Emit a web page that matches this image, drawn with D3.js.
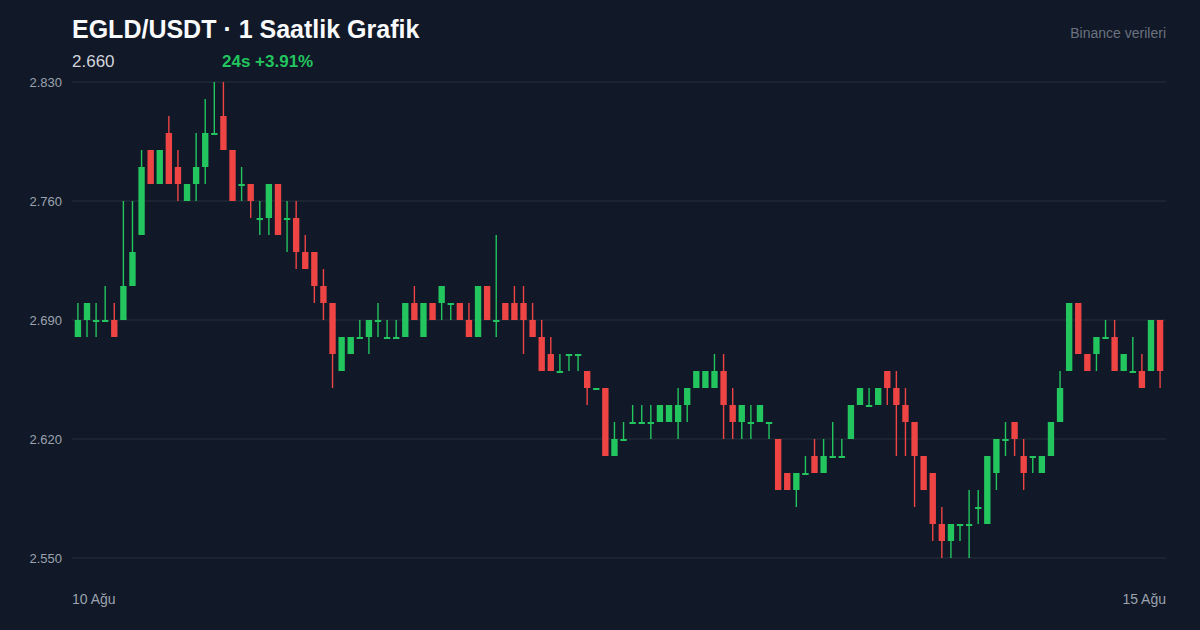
<!DOCTYPE html>
<html>
<head>
<meta charset="utf-8">
<script src="https://cdn.jsdelivr.net/npm/d3@7"></script>
<style>
  body { margin: 0; background: #111827; }
  svg { display: block; font-family: "Liberation Sans", Arial, sans-serif; }
</style>
</head>
<body>
<div id="chart"></div>
<script>
// OHLC, one entry per hour
var opens = [2.68,2.69,2.69,2.69,2.69,2.69,2.71,2.74,2.79,2.77,2.80,2.78,2.76,2.77,2.78,2.80,2.81,2.79,2.77,2.77,
  2.75,2.75,2.77,2.75,2.75,2.73,2.73,2.71,2.70,2.66,2.67,2.68,2.68,2.69,2.68,2.68,2.68,2.70,2.68,2.70,
  2.70,2.70,2.70,2.69,2.68,2.71,2.69,2.70,2.70,2.70,2.69,2.68,2.67,2.66,2.67,2.67,2.66,2.65,2.65,2.61,
  2.62,2.63,2.63,2.63,2.63,2.63,2.63,2.64,2.65,2.65,2.65,2.66,2.64,2.63,2.63,2.63,2.63,2.62,2.60,2.59,
  2.60,2.61,2.60,2.61,2.61,2.62,2.64,2.64,2.64,2.66,2.65,2.64,2.63,2.61,2.60,2.57,2.56,2.57,2.57,2.58,
  2.57,2.60,2.62,2.63,2.61,2.61,2.60,2.61,2.63,2.66,2.70,2.67,2.67,2.68,2.68,2.66,2.66,2.66,2.66,2.69];
var highs = [2.70,2.70,2.70,2.71,2.70,2.76,2.76,2.79,2.79,2.79,2.81,2.79,2.77,2.80,2.82,2.83,2.83,2.79,2.78,2.77,
  2.76,2.77,2.77,2.76,2.76,2.74,2.73,2.72,2.70,2.68,2.68,2.69,2.69,2.70,2.69,2.69,2.70,2.71,2.70,2.70,
  2.71,2.70,2.70,2.70,2.71,2.71,2.74,2.70,2.71,2.71,2.70,2.69,2.68,2.67,2.67,2.67,2.66,2.65,2.65,2.63,
  2.63,2.64,2.64,2.64,2.64,2.64,2.65,2.65,2.66,2.66,2.67,2.67,2.65,2.64,2.64,2.64,2.63,2.62,2.60,2.60,
  2.61,2.62,2.62,2.63,2.62,2.64,2.65,2.65,2.65,2.66,2.66,2.65,2.63,2.61,2.60,2.58,2.57,2.57,2.59,2.59,
  2.61,2.62,2.63,2.63,2.62,2.61,2.61,2.63,2.66,2.70,2.70,2.67,2.68,2.69,2.69,2.67,2.68,2.67,2.69,2.69];
var lows = [2.68,2.68,2.68,2.69,2.68,2.69,2.71,2.74,2.77,2.77,2.77,2.76,2.76,2.76,2.77,2.80,2.79,2.76,2.76,2.75,
  2.74,2.74,2.74,2.73,2.72,2.72,2.70,2.69,2.65,2.66,2.67,2.68,2.67,2.68,2.68,2.68,2.68,2.69,2.68,2.69,
  2.69,2.69,2.69,2.68,2.68,2.69,2.68,2.69,2.69,2.67,2.68,2.66,2.66,2.66,2.66,2.66,2.64,2.65,2.61,2.61,
  2.62,2.63,2.63,2.62,2.63,2.63,2.62,2.63,2.65,2.65,2.65,2.62,2.62,2.62,2.62,2.63,2.62,2.59,2.59,2.58,
  2.60,2.60,2.60,2.61,2.61,2.62,2.64,2.64,2.64,2.64,2.61,2.61,2.58,2.59,2.56,2.55,2.55,2.56,2.55,2.57,
  2.57,2.59,2.61,2.61,2.59,2.60,2.60,2.61,2.63,2.66,2.67,2.66,2.66,2.68,2.66,2.66,2.66,2.65,2.66,2.65];
var closes = [2.69,2.70,2.69,2.69,2.68,2.71,2.73,2.78,2.77,2.79,2.77,2.77,2.77,2.78,2.80,2.80,2.79,2.76,2.77,2.76,
  2.75,2.77,2.74,2.75,2.73,2.72,2.71,2.70,2.67,2.68,2.68,2.68,2.69,2.69,2.68,2.68,2.70,2.69,2.70,2.69,
  2.71,2.70,2.69,2.68,2.71,2.69,2.69,2.69,2.69,2.69,2.68,2.66,2.66,2.66,2.67,2.67,2.65,2.65,2.61,2.62,
  2.62,2.63,2.63,2.63,2.64,2.64,2.64,2.65,2.66,2.66,2.66,2.64,2.63,2.64,2.63,2.64,2.63,2.59,2.59,2.60,
  2.60,2.60,2.61,2.61,2.61,2.64,2.65,2.64,2.65,2.65,2.64,2.63,2.61,2.59,2.57,2.56,2.57,2.57,2.57,2.58,
  2.61,2.62,2.62,2.62,2.60,2.61,2.61,2.63,2.65,2.70,2.67,2.66,2.68,2.68,2.66,2.67,2.66,2.65,2.69,2.66];
var yTicks = [2.55, 2.62, 2.69, 2.76, 2.83];
var xLabels = ["10 Ağu", "15 Ağu"];
var title = "EGLD/USDT · 1 Saatlik Grafik";
var lastPrice = "2.660";
var change = "24s +3.91%";
var source = "Binance verileri";

var W = 1200, H = 630;
var plotLeft = 72, plotRight = 1166, plotTop = 82, plotBottom = 558;
var up = "#22c55e", down = "#ef4444";

var data = opens.map(function (o, i) {
    return { i: i, o: o, h: highs[i], l: lows[i], c: closes[i] };
});

var svg = d3.select("#chart").append("svg").attr("width", W).attr("height", H);
svg.append("rect").attr("width", W).attr("height", H).attr("fill", "#111827");

var x = d3.scaleBand().domain(data.map(d => d.i)).range([plotLeft, plotRight]).padding(0.3);
var y = d3.scaleLinear().domain([2.55, 2.83]).range([plotBottom, plotTop]);

// grid + y labels
svg.selectAll(".grid").data(yTicks).enter().append("line")
    .attr("x1", plotLeft).attr("x2", plotRight)
    .attr("y1", d => y(d)).attr("y2", d => y(d))
    .attr("stroke", "#1f2a37").attr("stroke-width", 1.5);
svg.selectAll(".ylab").data(yTicks).enter().append("text")
    .attr("x", 62).attr("y", d => y(d) + 5)
    .attr("text-anchor", "end").attr("fill", "#9ca3af").attr("font-size", 13)
    .text(d => d.toFixed(3));

// candles
var g = svg.append("g");
var cx = d => x(d.i) + x.bandwidth() / 2;
var col = d => d.c >= d.o ? up : down;
g.selectAll(".wick").data(data).enter().append("line")
    .attr("x1", cx).attr("x2", cx)
    .attr("y1", d => y(d.h)).attr("y2", d => y(d.l))
    .attr("stroke", col).attr("stroke-width", 1.4);
g.selectAll(".body").data(data).enter().append("rect")
    .attr("x", d => x(d.i)).attr("width", x.bandwidth())
    .attr("y", d => y(Math.max(d.o, d.c)))
    .attr("height", d => Math.max(2, Math.abs(y(d.o) - y(d.c))))
    .attr("fill", col);

// header
svg.append("text").attr("x", 72).attr("y", 38).attr("fill", "#f9fafb")
    .attr("font-size", 25).attr("font-weight", "bold").text(title);
svg.append("text").attr("x", 72).attr("y", 67).attr("fill", "#d1d5db")
    .attr("font-size", 17).text(lastPrice);
svg.append("text").attr("x", 222).attr("y", 67).attr("fill", up)
    .attr("font-size", 17).attr("font-weight", "bold").text(change);
svg.append("text").attr("x", 1166).attr("y", 38).attr("text-anchor", "end")
    .attr("fill", "#6b7280").attr("font-size", 14).text(source);

// x labels
svg.append("text").attr("x", 72).attr("y", 604).attr("fill", "#9ca3af")
    .attr("font-size", 14).text(xLabels[0]);
svg.append("text").attr("x", 1166).attr("y", 604).attr("text-anchor", "end")
    .attr("fill", "#9ca3af").attr("font-size", 14).text(xLabels[1]);
</script>
</body>
</html>
